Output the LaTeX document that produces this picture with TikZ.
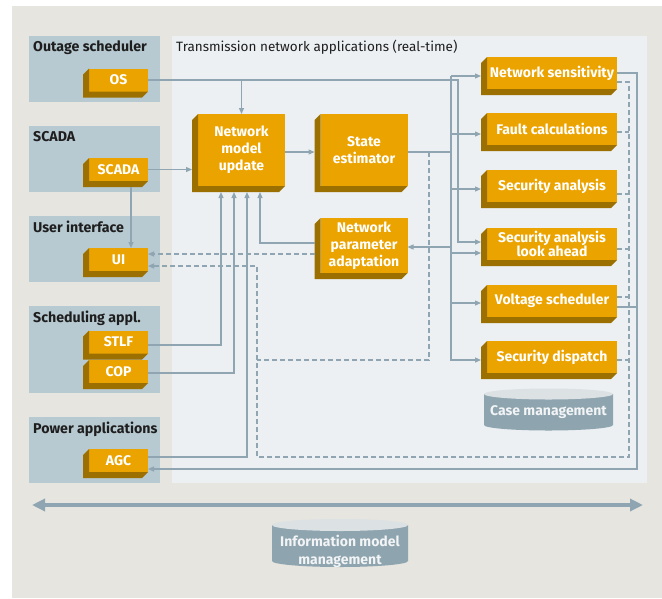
\documentclass[tikz,border=0pt]{standalone}
\usepackage{fontspec}
\setmainfont{Fira Sans}
\usetikzlibrary{arrows.meta,calc}
\definecolor{outerbg}{HTML}{E6E5DF}
\definecolor{panelbg}{HTML}{ECF0F3}
\definecolor{groupbg}{HTML}{B7C9D1}
\definecolor{gold}{HTML}{EBA300}
\definecolor{golddark}{HTML}{9C7000}
\definecolor{lineclr}{HTML}{8FA6B2}
\definecolor{cylbody}{HTML}{8EA4AF}
\definecolor{cyltop}{HTML}{DCE1E4}
\definecolor{labeltext}{HTML}{1E1E1E}
\definecolor{cyltext}{HTML}{F2F4F5}
\tikzset{
  gbox/.style={fill=gold, text=white, font=\bfseries\fontsize{14}{17}\selectfont, inner sep=0pt, outer sep=0pt, align=center},
  smallbox/.style={gbox, minimum width=59pt, minimum height=23pt},
  bigbox/.style={gbox, minimum width=87pt},
  appbox/.style={gbox, minimum width=130pt, minimum height=32pt},
  grouplabel/.style={anchor=west, inner sep=0pt, text=labeltext, font=\bfseries\fontsize{14.2}{16}\selectfont},
  cyllabel/.style={text=cyltext, inner sep=0pt, align=center, font=\bfseries\fontsize{14}{18}\selectfont},
  conn/.style={draw=lineclr, line width=1.2pt},
  arr/.style={conn, -{Triangle[length=6pt,width=5pt]}},
  dconn/.style={conn, dash pattern=on 5pt off 3pt},
  darr/.style={dconn, -{Triangle[length=6pt,width=5pt]}},
}
\newcommand{\extr}[1]{\fill[golddark] (#1.north west) -- ++(-6,6) |- ([shift={(-6pt,-6pt)}]#1.south east) -- (#1.south east) -- (#1.south west) -- cycle;}
\begin{document}
\begin{tikzpicture}[x=1pt,y=-1pt]
\useasboundingbox (0,0) rectangle (662,598);
% backgrounds
\fill[outerbg] (12,6) rectangle (662,598);
\fill[panelbg] (172,36) rectangle (647,483);
\fill[groupbg] (29,36) rectangle (160,102);
\fill[groupbg] (29,126) rectangle (160,192);
\fill[groupbg] (29,216) rectangle (160,282);
\fill[groupbg] (29,306) rectangle (160,393);
\fill[groupbg] (29,417) rectangle (160,483);
% labels
\node[grouplabel] (l-os) at (33,48) {Outage scheduler};
\node[grouplabel] (l-scada) at (33,137) {SCADA};
\node[grouplabel] (l-ui) at (33,227) {User interface};
\node[grouplabel] (l-sched) at (33,318) {Scheduling appl.};
\node[grouplabel] (l-power) at (33,429) {Power applications};
\node[anchor=west, inner sep=0pt, text=labeltext, font=\fontsize{13.5}{15}\selectfont] (title) at (176,47) {Transmission network applications (real-time)};
% small boxes
\node[smallbox] (os) at (118.5,80) {OS}; \extr{os}
\node[smallbox] (scada) at (118.5,169.5) {SCADA}; \extr{scada}
\node[smallbox] (ui) at (118.5,259.5) {UI}; \extr{ui}
\node[smallbox] (stlf) at (118.5,342) {STLF}; \extr{stlf}
\node[smallbox] (cop) at (118.5,371.5) {COP}; \extr{cop}
\node[smallbox] (agc) at (118.5,460.5) {AGC}; \extr{agc}
% big boxes
\node[bigbox, minimum height=72pt] (nmu) at (241.5,150) {Network\\model\\update}; \extr{nmu}
\node[bigbox, minimum height=72pt] (se) at (364,150) {State\\estimator}; \extr{se}
\node[bigbox, minimum height=55pt] (npa) at (364,245.5) {Network\\parameter\\adaptation}; \extr{npa}
% application boxes
\node[appbox] (ns) at (552,73) {Network sensitivity}; \extr{ns}
\node[appbox] (fc) at (552,129) {Fault calculations}; \extr{fc}
\node[appbox] (sa) at (552,186) {Security analysis}; \extr{sa}
\node[appbox, font=\bfseries\fontsize{14}{12.5}\selectfont] (sala) at (552,244) {Security analysis\\look ahead}; \extr{sala}
\node[appbox] (vs) at (552,301) {Voltage scheduler}; \extr{vs}
\node[appbox] (sd) at (552,357) {Security dispatch}; \extr{sd}
% cylinders
\fill[cylbody] (484,394) -- (484,425) arc[start angle=180,end angle=0,x radius=64.5,y radius=5.5] -- (613,394) -- cycle;
\fill[cyltop] (548.5,394) ellipse[x radius=64.5, y radius=5.5];
\node[cyllabel] (casemgmt) at (548.5,412) {Case management};
\fill[cylbody] (272,525) -- (272,561) arc[start angle=180,end angle=0,x radius=68,y radius=6] -- (408,525) -- cycle;
\fill[cyltop] (340,525) ellipse[x radius=68, y radius=6];
\node[cyllabel] (infomgmt) at (340,551) {Information model\\management};
% big double arrow
\coordinate (imL) at (32,505);
\coordinate (imR) at (643,505);
\draw[draw=lineclr, line width=4pt, {Triangle[length=13pt,width=12pt]}-{Triangle[length=13pt,width=12pt]}] (imL) -- (imR);
% coordinates
\coordinate (bus) at (451,76);
\coordinate (seout) at ($(se.east)+(0,2)$);
\coordinate (npain) at ($(npa.east)+(0,1.5)$);
\coordinate (npaout) at ($(npa.west)+(-6,-2.5)$);
\coordinate (npad) at ($(npa.west)+(-6,8.5)$);
% OS connectors
\draw[arr] (os.east -| nmu.north) -- (nmu.north);
\draw[arr] (os.east) -- (458,80) |- ($(sala.west)+(-6,-2)$);
% SCADA connectors
\draw[arr] (scada.east) -- ($(scada.east -| nmu.west)+(-6,0)$);
\draw[arr] ($(scada.south)+(12.5,6)$) -- (ui.north -| 131,0);
% NMU -> SE
\draw[arr] ($(nmu.east)+(0,2)$) -- ($(se.west)+(-6,2)$);
% SE -> bus
\draw[conn] (seout) -- (seout -| bus);
\draw[conn] (bus) -- (451,360);
\draw[arr] (bus) -- ($(ns.west)+(-6,3)$);
\draw[arr] (bus) |- ($(fc.west)+(-6,5)$);
\draw[arr] (bus) |- ($(sa.west)+(-6,3)$);
\draw[arr] (bus) |- ($(sala.west)+(-6,9)$);
\draw[arr] (bus) |- ($(vs.west)+(-6,2)$);
\draw[arr] (bus) |- ($(sd.west)+(-6,3)$);
\draw[arr] (npain -| bus) -- (npain);
% NPA outputs
\draw[arr] (npaout) -| ($(nmu.south)+(18.5,6)$);
\draw[darr] (npad) -- (npad -| ui.east);
% scheduling & power apps into NMU
\draw[arr] ($(stlf.east)+(0,3)$) -| ($(nmu.south)+(-20.5,6)$);
\draw[arr] ($(cop.east)+(0,1.5)$) -| ($(nmu.south)+(-7.5,6)$);
\draw[arr] ($(agc.east)+(0,-3.5)$) -| ($(nmu.south)+(5.5,6)$);
% solid feedback to AGC
\draw[arr] (ns.east) -- (637,73) |- ($(agc.east)+(0,8.5)$);
\draw[conn] ($(vs.east)+(0,6)$) -- (637,307);
% dashed return to UI
\draw[darr] ($(ns.east)+(0,9)$) -- (629,82) -- (629,457) -- (257,457) |- ($(ui.east)+(0,6.5)$);
\draw[dconn] ($(fc.east)+(0,3)$) -- (629,132);
\draw[dconn] ($(sa.east)+(0,8)$) -- (629,194);
\draw[dconn] ($(sala.east)+(0,5)$) -- (629,249);
\draw[dconn] ($(vs.east)+(0,-4)$) -- (629,297);
\draw[dconn] ($(sd.east)+(0,3)$) -- (629,360);
\draw[dconn] (seout -| 429,0) -- (429,360) -- (257,360);
\end{tikzpicture}
\end{document}
